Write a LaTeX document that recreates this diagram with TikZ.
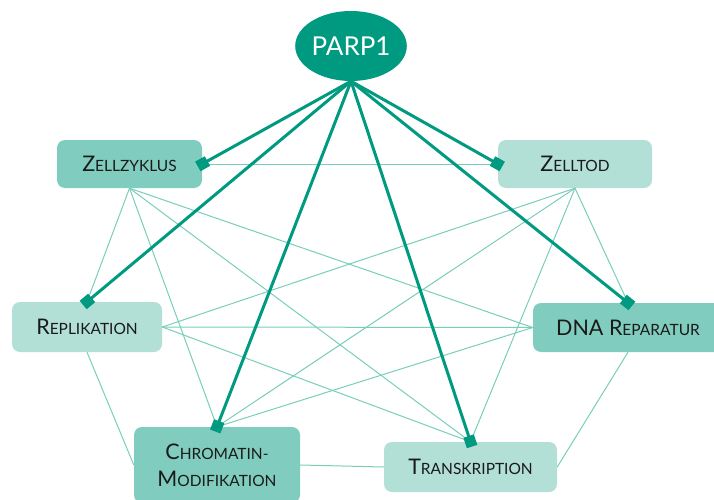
\documentclass[tikz,border=0pt]{standalone}
\usepackage{fontspec}
\setmainfont{Lato}
\usetikzlibrary{arrows.meta,shapes.geometric}

\definecolor{parpgreen}{RGB}{0,154,128}
\definecolor{midfill}{RGB}{128,205,191}
\definecolor{lightfill}{RGB}{178,223,214}
\definecolor{thinline}{RGB}{120,206,186}
\definecolor{labeltext}{RGB}{26,26,26}

% first letter large, rest as small capitals
\newcommand{\capfirst}[2]{#1{\fontsize{15.5}{15.5}\selectfont #2}}

\tikzset{
  topic/.style={rectangle, rounded corners=8pt, text=labeltext, inner sep=0pt,
    align=center, font=\fontsize{21.5}{27}\selectfont},
  topicmid/.style={topic, fill=midfill},
  topiclight/.style={topic, fill=lightfill},
  link/.style={draw=thinline, line width=1pt},
  hit/.style={draw=parpgreen, line width=3pt, -{Square[length=11pt,width=11pt]}, shorten >=-5pt},
}

\begin{document}
\begin{tikzpicture}[x=1pt, y=-1pt]
    \useasboundingbox (0,0) rectangle (714,500);
    \clip (0,0) rectangle (714,500);

    % PARP1
    \node[ellipse, fill=parpgreen, text=white, minimum width=108pt, minimum height=70pt, inner sep=0pt,
      font=\fontsize{26}{26}\selectfont] (parp) at (351,46) {PARP1};

    % Zellzyklus
    \node[topicmid, minimum width=145pt, minimum height=48pt] (zyklus) at (129.5,164) {\capfirst{Z}{ELLZYKLUS}};

    % Zelltod
    \node[topiclight, minimum width=154pt, minimum height=48pt] (tod) at (575,164) {\capfirst{Z}{ELLTOD}};

    % Replikation
    \node[topiclight, minimum width=150pt, minimum height=50pt] (repl) at (87,327) {\capfirst{R}{EPLIKATION}};

    % DNA Reparatur
    \node[topicmid, minimum width=190pt, minimum height=49pt] (repar) at (628,327.5) {DNA \capfirst{R}{EPARATUR}};

    % Chromatin-Modifikation
    \node[topicmid, minimum width=166pt, minimum height=76pt] (chrom) at (217,465) {\capfirst{C}{HROMATIN-}\\\capfirst{M}{ODIFIKATION}};

    % Transkription
    \node[topiclight, minimum width=173pt, minimum height=50pt] (trans) at (470.5,467) {\capfirst{T}{RANSKRIPTION}};

    % Thin links
    \draw[link] (zyklus.east) -- (tod.west);
    \draw[link] (zyklus.south) -- (repl.north);
    \draw[link] (zyklus.south) -- (repar.west);
    \draw[link] (zyklus.south) -- (chrom.north);
    \draw[link] (zyklus.south) -- (trans.north);
    \draw[link] (tod.south) -- (repl.east);
    \draw[link] (tod.south) -- (repar.north);
    \draw[link] (tod.south) -- (chrom.north);
    \draw[link] (tod.south) -- (trans.north);
    \draw[link] (repl.east) -- (repar.west);
    \draw[link] (repl.south) -- (chrom.west);
    \draw[link] (repl.east) -- (trans.north);
    \draw[link] (repar.west) -- (chrom.north);
    \draw[link] (repar.south) -- (trans.east);
    \draw[link] (chrom.east) -- (trans.west);

    % PARP1 links
    \draw[hit] (parp.south) -- (zyklus.east);
    \draw[hit] (parp.south) -- (tod.west);
    \draw[hit] (parp.south) -- (repl.north);
    \draw[hit] (parp.south) -- (repar.north);
    \draw[hit] (parp.south) -- (chrom.north);
    \draw[hit] (parp.south) -- (trans.north);
\end{tikzpicture}
\end{document}
